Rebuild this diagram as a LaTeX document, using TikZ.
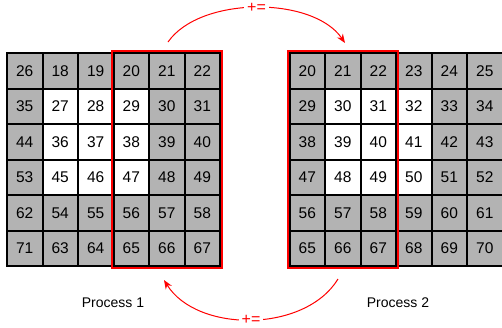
\documentclass[tikz,border=0pt]{standalone}
\usepackage{fontspec}
\setmainfont{Liberation Sans}
\usetikzlibrary{arrows.meta}
\definecolor{cellgray}{RGB}{179,179,179}
\definecolor{pred}{RGB}{255,0,0}
\begin{document}
\begin{tikzpicture}[x=1pt,y=-1pt,
  cell/.style={draw=black, line width=2pt, minimum size=35.5pt, inner sep=0pt, outer sep=0pt,
    anchor=north west, font=\fontsize{15.5}{15.5}\selectfont, fill=cellgray},
  wcell/.style={cell, fill=white},
  hbox/.style={draw=pred, line width=2pt},
  acc/.style={draw=pred, line width=1pt, -{Stealth[length=9pt,width=7pt]}},
  pluslbl/.style={fill=white, text=pred, inner xsep=3pt, inner ysep=0pt, font=\fontsize{16}{16}\selectfont},
  proclbl/.style={font=\fontsize{14}{14}\selectfont}]
\clip (0,0) rectangle (502,327);
\fill[white] (0,0) rectangle (502,327);
\foreach \r in {0,...,5}{
  \foreach \c in {0,...,5}{
    \pgfmathtruncatemacro\lv{\c==0 ? 26+9*\r : 17+9*\r+\c}
    \pgfmathtruncatemacro\rv{20+9*\r+\c}
    \pgfmathtruncatemacro\w{and(\r>0,\r<4)*and(\c>0,\c<4)}
    \ifnum\w=1 \def\st{wcell}\else\def\st{cell}\fi
    \node[\st] (L-\r-\c) at ({7+35.5*\c},{53.3+35.5*\r}) {\lv};
    \node[\st] (R-\r-\c) at ({289.5+35.5*\c},{53.3+35.5*\r}) {\rv};
  }
}
\draw[hbox] ([shift={(-2,-2)}]L-0-3.north west) rectangle ([shift={(2,2)}]L-5-5.south east);
\draw[hbox] ([shift={(-2,-2)}]R-0-0.north west) rectangle ([shift={(2,2)}]R-5-2.south east);
\node[proclbl] (p1) at (113,303) {Process 1};
\node[proclbl] (p2) at (398,303) {Process 2};
\coordinate (a1s) at (168,42);
\coordinate (a1e) at (345,43);
\coordinate (a2s) at (338,279);
\coordinate (a2e) at (164,280);
\draw[acc] (a1s) .. controls (200,-4) and (313,-4) .. node[pluslbl, yshift=-0.5pt] (plus1) {+=} (a1e);
\draw[acc] (a2s) .. controls (305,333) and (197,333) .. node[pluslbl] (plus2) {+=} (a2e);
\end{tikzpicture}
\end{document}
